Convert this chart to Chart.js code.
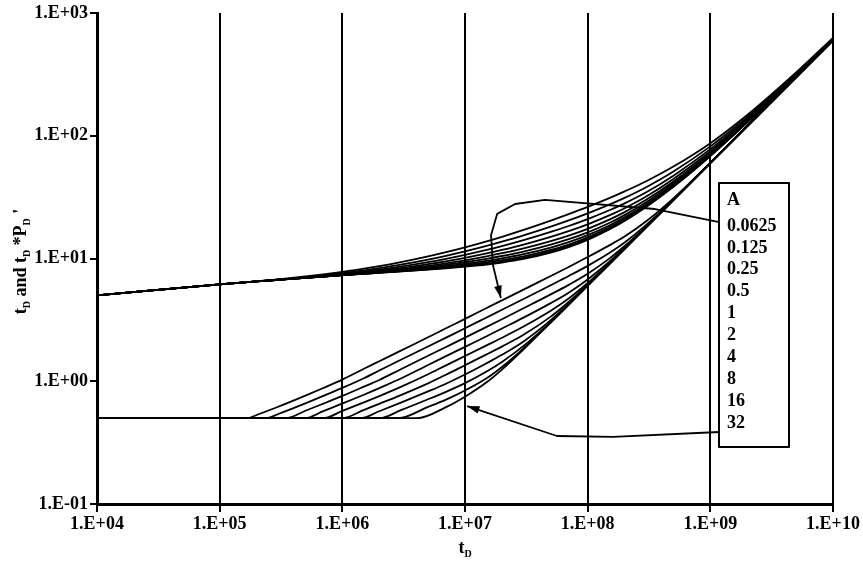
<!DOCTYPE html>
<html>
<head>
<meta charset="utf-8">
<script src="https://cdn.jsdelivr.net/npm/chart.js@4.4.0/dist/chart.umd.min.js"></script>
<style>
  html, body { margin: 0; padding: 0; background: #fff; }
</style>
</head>
<body>
<canvas id="typeCurveChart" width="863" height="567"></canvas>
<script>
// legend values (A) and axis ticks
const aValues = ['0.0625', '0.125', '0.25', '0.5', '1', '2', '4', '8', '16', '32'];
const xTicks = [1e4, 1e5, 1e6, 1e7, 1e8, 1e9, 1e10];
const yTicks = [0.1, 1, 10, 100, 1000];

// upper family: t_D vs P_D, one row per A
const tUpper = [1e4, 1e5, 2e5, 3e5, 5e5, 7e5, 1e6, 1.5e6, 2e6, 3e6, 5e6, 7e6, 1e7, 1.5e7, 2e7, 3e7, 5e7, 7e7, 1e8, 1.5e8, 2e8, 3e8, 5e8, 1e9, 2e9, 5e9, 1e10];
const pdCurves = [
  [5.01, 6.16, 6.51, 6.76, 7.14, 7.43, 7.79, 8.26, 8.66, 9.33, 10.39, 11.25, 12.32, 13.79, 15.03, 17.1, 20.37, 23.0, 26.3, 31.0, 35.2, 42.6, 56.1, 87.0, 147.5, 327.5, 627.5],
  [5.01, 6.16, 6.51, 6.71, 7.04, 7.29, 7.60, 8.01, 8.35, 8.91, 9.80, 10.52, 11.42, 12.66, 13.70, 15.43, 18.18, 20.43, 23.35, 27.5, 31.2, 38.1, 51.1, 81.9, 142.1, 322, 622],
  [5.01, 6.16, 6.51, 6.71, 6.98, 7.20, 7.47, 7.83, 8.12, 8.59, 9.34, 9.94, 10.70, 11.74, 12.62, 14.10, 16.46, 18.40, 20.94, 24.7, 28.1, 34.6, 47.3, 77.8, 137.9, 317.9, 617.9],
  [5.01, 6.16, 6.51, 6.71, 6.97, 7.15, 7.38, 7.70, 7.95, 8.35, 8.99, 9.49, 10.13, 11.01, 11.75, 13.0, 15.02, 16.72, 18.99, 22.43, 25.7, 32.0, 44.5, 74.8, 134.8, 314.8, 614.8],
  [5.01, 6.16, 6.51, 6.71, 6.97, 7.13, 7.33, 7.59, 7.81, 8.17, 8.71, 9.13, 9.67, 10.41, 11.04, 12.10, 13.86, 15.37, 17.45, 20.71, 23.85, 30.05, 42.4, 72.6, 132.6, 312.6, 612.6],
  [5.01, 6.16, 6.51, 6.71, 6.97, 7.13, 7.31, 7.54, 7.73, 8.04, 8.50, 8.87, 9.32, 9.95, 10.48, 11.40, 12.97, 14.36, 16.32, 19.48, 22.57, 28.7, 41.0, 71.1, 131.1, 311.1, 611.1],
  [5.01, 6.16, 6.51, 6.71, 6.97, 7.13, 7.31, 7.51, 7.67, 7.94, 8.35, 8.66, 9.04, 9.57, 10.03, 10.84, 12.27, 13.58, 15.48, 18.57, 21.62, 27.7, 39.9, 69.9, 129.9, 309.9, 609.9],
  [5.01, 6.16, 6.51, 6.71, 6.97, 7.13, 7.31, 7.52, 7.66, 7.89, 8.24, 8.51, 8.84, 9.29, 9.68, 10.40, 11.73, 12.99, 14.85, 17.92, 20.96, 27.0, 39.1, 69.1, 129.1, 309.1, 609.1],
  [5.01, 6.16, 6.51, 6.71, 6.97, 7.13, 7.31, 7.52, 7.66, 7.86, 8.16, 8.40, 8.69, 9.09, 9.44, 10.12, 11.41, 12.65, 14.49, 17.54, 20.57, 26.6, 38.65, 68.65, 128.65, 308.65, 608.65],
  [5.01, 6.16, 6.51, 6.71, 6.97, 7.13, 7.31, 7.52, 7.66, 7.86, 8.12, 8.32, 8.58, 8.93, 9.27, 9.92, 11.18, 12.4, 14.2, 17.24, 20.26, 26.3, 38.3, 68.3, 128.3, 308.3, 608.3]
];

// lower family: t_D vs t_D*P_D', flat 0.5 until lowerStart, then the rows below
const lowerFlat = 0.5;
const lowerStart = [1.70e5, 2.42e5, 3.45e5, 4.91e5, 6.99e5, 9.9e5, 1.41e6, 2.01e6, 2.86e6, 4.06e6];
const tLower = [2e5, 3e5, 5e5, 7e5, 1e6, 1.5e6, 2e6, 3e6, 5e6, 7e6, 1e7, 1.5e7, 2e7, 3e7, 5e7, 7e7, 1e8, 1.5e8, 2e8, 3e8, 5e8, 1e9, 1e10];
const derivCurves = [
  [0.531, 0.620, 0.764, 0.881, 1.032, 1.263, 1.455, 1.776, 2.28, 2.70, 3.22, 3.95, 4.56, 5.58, 7.21, 8.53, 10.27, 12.8, 15.1, 20.1, 30.9, 60.2, 600],
  [null, 0.541, 0.661, 0.759, 0.883, 1.059, 1.223, 1.495, 1.920, 2.265, 2.70, 3.31, 3.82, 4.68, 6.06, 7.20, 8.71, 11.08, 13.5, 18.8, 30.3, 60.1, 600],
  [null, null, 0.575, 0.657, 0.759, 0.903, 1.024, 1.254, 1.614, 1.903, 2.267, 2.773, 3.203, 3.93, 5.10, 6.10, 7.52, 9.98, 12.63, 18.3, 30.1, 60, 600],
  [null, null, null, 0.571, 0.658, 0.776, 0.878, 1.052, 1.358, 1.601, 1.907, 2.326, 2.69, 3.30, 4.33, 5.27, 6.74, 9.40, 12.23, 18.1, 30.05, 60, 600],
  [null, null, null, null, 0.573, 0.672, 0.756, 0.899, 1.139, 1.348, 1.605, 1.96, 2.26, 2.79, 3.75, 4.72, 6.31, 9.15, 12.08, 18.05, 30, 60, 600],
  [null, null, null, null, null, 0.584, 0.655, 0.772, 0.962, 1.130, 1.351, 1.654, 1.916, 2.39, 3.36, 4.42, 6.11, 9.06, 12.03, 18, 30, 60, 600],
  [null, null, null, null, null, null, 0.570, 0.669, 0.826, 0.955, 1.134, 1.402, 1.641, 2.11, 3.15, 4.28, 6.04, 9.02, 12, 18, 30, 60, 600],
  [null, null, null, null, null, null, null, 0.581, 0.713, 0.820, 0.965, 1.200, 1.436, 1.94, 3.05, 4.23, 6.01, 9, 12, 18, 30, 60, 600],
  [null, null, null, null, null, null, null, null, 0.618, 0.708, 0.841, 1.058, 1.308, 1.855, 3.02, 4.21, 6, 9, 12, 18, 30, 60, 600],
  [null, null, null, null, null, null, null, null, null, 0.615, 0.748, 0.980, 1.245, 1.82, 3.01, 4.2, 6, 9, 12, 18, 30, 60, 600]
];

// arrow paths in (t_D, value), from the legend box to the curves
const arrowToFirst = [[1.18e9, 19.8], [3.54e8, 25.3], [4.49e7, 30.0], [2.56e7, 27.8], [1.83e7, 23.1], [1.63e7, 15.5], [1.69e7, 8.85], [1.96e7, 4.76]];
const arrowToLast = [[1.18e9, 0.386], [1.61e8, 0.352], [5.62e7, 0.358], [1.04e7, 0.628]];

function sciLabel(v) {
  const e = Math.round(Math.log10(v));
  return '1.E' + (e < 0 ? '-' : '+') + String(Math.abs(e)).padStart(2, '0');
}

const lineStyle = {
  borderColor: '#000',
  backgroundColor: '#000',
  borderWidth: 1.8,
  pointRadius: 0,
  fill: false,
  cubicInterpolationMode: 'monotone'
};

const datasets = [];
pdCurves.forEach((vals, i) => {
  datasets.push(Object.assign({
    label: 'PD A=' + aValues[i],
    data: tUpper.map((t, j) => ({ x: t, y: vals[j] }))
  }, lineStyle));
});
derivCurves.forEach((vals, i) => {
  const pts = [{ x: 1e4, y: lowerFlat }, { x: lowerStart[i], y: lowerFlat }];
  tLower.forEach((t, j) => {
    if (vals[j] != null && t > lowerStart[i]) pts.push({ x: t, y: vals[j] });
  });
  datasets.push(Object.assign({ label: 'dPD A=' + aValues[i], data: pts }, lineStyle));
});

const serif = '"Liberation Serif", "Times New Roman", serif';

// arrows, legend box and axis titles with subscripts
const overlay = {
  id: 'overlay',
  afterDraw(chart) {
    const { ctx, chartArea: a, scales: { x, y } } = chart;
    ctx.save();
    ctx.strokeStyle = '#000';
    ctx.fillStyle = '#000';
    ctx.lineWidth = 1.8;
    ctx.lineJoin = 'round';
    [arrowToFirst, arrowToLast].forEach(path => {
      const pts = path.map(p => [x.getPixelForValue(p[0]), y.getPixelForValue(p[1])]);
      ctx.beginPath();
      pts.forEach((p, i) => i ? ctx.lineTo(p[0], p[1]) : ctx.moveTo(p[0], p[1]));
      ctx.stroke();
      const [x1, y1] = pts[pts.length - 2];
      const [x2, y2] = pts[pts.length - 1];
      const ang = Math.atan2(y2 - y1, x2 - x1);
      ctx.beginPath();
      ctx.moveTo(x2, y2);
      ctx.lineTo(x2 - 13 * Math.cos(ang - 0.3), y2 - 13 * Math.sin(ang - 0.3));
      ctx.lineTo(x2 - 13 * Math.cos(ang + 0.3), y2 - 13 * Math.sin(ang + 0.3));
      ctx.closePath();
      ctx.fill();
    });

    // legend box
    const bx = a.right - 114, by = a.top + 170, bw = 70, bh = 264;
    ctx.fillStyle = '#fff';
    ctx.fillRect(bx, by, bw, bh);
    ctx.lineWidth = 2;
    ctx.strokeRect(bx, by, bw, bh);
    ctx.fillStyle = '#000';
    ctx.font = 'bold 18px ' + serif;
    ctx.textBaseline = 'middle';
    ctx.textAlign = 'left';
    ctx.fillText('A', bx + 8, by + 17);
    aValues.forEach((v, i) => ctx.fillText(v, bx + 8, by + 43 + i * 21.9));

    // axis titles
    const parts = [['t', 0], ['D', 1], [' and t', 0], ['D', 1], [' *P', 0], ['D', 1], [" '", 0]];
    const big = 'bold 18px ' + serif, small = 'bold 10px ' + serif;
    ctx.textBaseline = 'alphabetic';
    const drawParts = (list, cx, cy) => {
      let w = 0;
      list.forEach(p => { ctx.font = p[1] ? small : big; w += ctx.measureText(p[0]).width; });
      let px = cx - w / 2;
      list.forEach(p => {
        ctx.font = p[1] ? small : big;
        ctx.fillText(p[0], px, cy + (p[1] ? 4 : 0));
        px += ctx.measureText(p[0]).width;
      });
    };
    drawParts([['t', 0], ['D', 1]], (a.left + a.right) / 2, 553);
    ctx.translate(26, (a.top + a.bottom) / 2 + 3);
    ctx.rotate(-Math.PI / 2);
    drawParts(parts, 0, 0);
    ctx.restore();
  }
};

const ctx = document.getElementById('typeCurveChart').getContext('2d');
const typeCurveChart = new Chart(ctx, {
  type: 'line',
  data: { datasets: datasets },
  options: {
    responsive: false,
    animation: false,
    devicePixelRatio: 1,
    layout: { padding: { top: 13, right: 30, left: 0, bottom: 0 } },
    plugins: {
      legend: { display: false },
      tooltip: { enabled: false }
    },
    scales: {
      x: {
        type: 'logarithmic',
        min: 1e4,
        max: 1e10,
        afterBuildTicks: s => { s.ticks = xTicks.map(v => ({ value: v })); },
        afterFit: s => { s.height = 63; },
        ticks: {
          callback: v => sciLabel(v),
          color: '#000',
          font: { family: serif, size: 18, weight: 'bold' },
          maxRotation: 0,
          autoSkip: false,
          padding: 2
        },
        grid: { color: '#000', lineWidth: 2, tickLength: 8 },
        border: { display: true, color: '#000', width: 3 }
      },
      y: {
        type: 'logarithmic',
        min: 0.1,
        max: 1000,
        afterBuildTicks: s => { s.ticks = yTicks.map(v => ({ value: v })); },
        afterFit: s => { s.width = 97; },
        ticks: {
          callback: v => sciLabel(v),
          color: '#000',
          font: { family: serif, size: 18, weight: 'bold' },
          autoSkip: false,
          padding: 2
        },
        grid: { drawOnChartArea: false, color: '#000', lineWidth: 2, tickLength: 7 },
        border: { display: true, color: '#000', width: 3 }
      }
    }
  },
  plugins: [overlay]
});
</script>
</body>
</html>
